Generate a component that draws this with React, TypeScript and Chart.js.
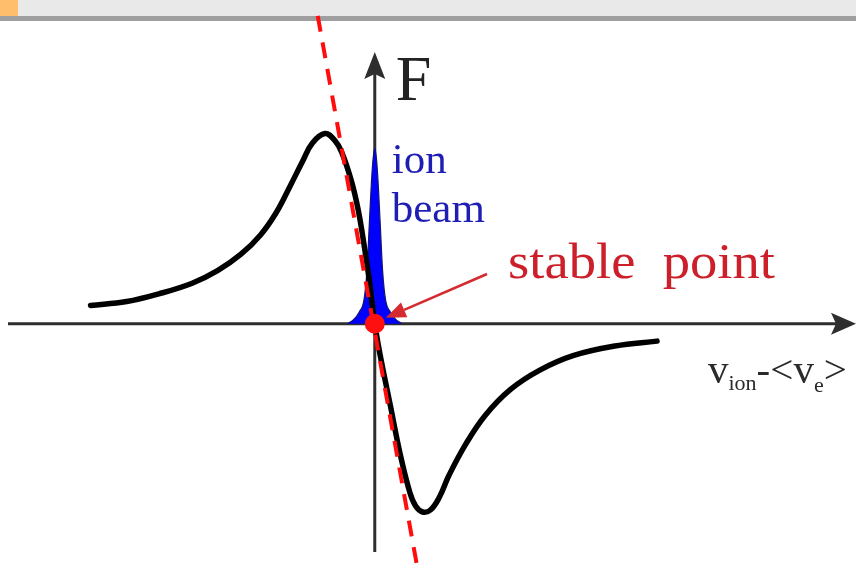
import { useEffect, useRef } from "react";
import { Chart, registerables } from "chart.js";

Chart.register(...registerables);

// Friction force on an ion versus relative velocity (arbitrary units)
const curveV = [
  -2.91, -2.54, -2.21, -1.87, -1.61, -1.37, -1.17, -1.01, -0.87, -0.74, -0.64,
  -0.51, -0.41, -0.34, -0.24, -0.17, -0.11, -0.06, 0, 0.06, 0.16, 0.26, 0.36,
  0.42, 0.49, 0.57, 0.66, 0.76, 0.93, 1.13, 1.39, 1.69, 2.03, 2.46, 2.89,
];
const curveF = [
  0.19, 0.23, 0.31, 0.42, 0.55, 0.72, 0.92, 1.15, 1.42, 1.68, 1.87, 1.97, 1.9,
  1.78, 1.48, 1.18, 0.82, 0.48, 0, -0.35, -0.85, -1.35, -1.75, -1.89, -1.95,
  -1.93, -1.8, -1.57, -1.25, -0.95, -0.68, -0.48, -0.33, -0.23, -0.18,
];

// Narrow velocity distribution of the ion beam
const beamV = [
  -0.28, -0.22, -0.16, -0.11, -0.08, -0.055, -0.035, -0.018, 0, 0.018, 0.035,
  0.055, 0.08, 0.11, 0.16, 0.22, 0.28,
];
const beamF = [
  0, 0.04, 0.12, 0.25, 0.55, 1.05, 1.45, 1.7, 1.82, 1.7, 1.45, 1.05, 0.55, 0.25,
  0.12, 0.04, 0,
];

// Tangent to the force curve at the stable point
const tangentV = [-0.584, 0.44];
const tangentF = [3.19, -2.55];

// Stable point
const stableV = [0];
const stableF = [0];

const xRange = [-3.735, 4.825];
const yRange = [-2.52, 3.25];

const labelForce = "F";
const labelBeam = ["ion", "beam"];
const labelStable = "stable  point";
const labelAxisParts = [
  { t: "v", sub: false },
  { t: "ion", sub: true },
  { t: "-", sub: false },
  { t: "<", sub: false },
  { t: "v", sub: false },
  { t: "e", sub: true },
  { t: ">", sub: false },
];

const toPoints = (xs: number[], ys: number[]) =>
  xs.map((x, i) => ({ x, y: ys[i] }));

const SERIF = '"Liberation Serif", "Times New Roman", serif';

const decorPlugin = {
  id: "decor",
  beforeDraw(chart: any) {
    const { ctx, width, height } = chart;
    ctx.save();
    ctx.fillStyle = "#ffffff";
    ctx.fillRect(0, 0, width, height);
    // window strip at the top
    ctx.fillStyle = "#e9e9e9";
    ctx.fillRect(0, 0, width, 16);
    ctx.fillStyle = "#9f9f9f";
    ctx.fillRect(0, 16, width, 5);
    ctx.fillStyle = "#ffbe6c";
    ctx.fillRect(0, 0, 18, 16);
    ctx.restore();
  },
  beforeDatasetsDraw(chart: any) {
    const { ctx } = chart;
    const x0 = chart.scales.x.getPixelForValue(0);
    const y0 = chart.scales.y.getPixelForValue(0);
    ctx.save();
    ctx.strokeStyle = "#2e2e2e";
    ctx.fillStyle = "#2e2e2e";
    ctx.lineWidth = 3;
    // horizontal axis
    ctx.beginPath();
    ctx.moveTo(8, y0);
    ctx.lineTo(836, y0);
    ctx.stroke();
    ctx.beginPath();
    ctx.moveTo(856, y0);
    ctx.lineTo(831, y0 - 11);
    ctx.lineTo(836, y0);
    ctx.lineTo(831, y0 + 11);
    ctx.closePath();
    ctx.fill();
    // vertical axis
    ctx.beginPath();
    ctx.moveTo(x0, 552);
    ctx.lineTo(x0, 74);
    ctx.stroke();
    ctx.beginPath();
    ctx.moveTo(x0, 52);
    ctx.lineTo(x0 - 10.5, 79);
    ctx.lineTo(x0, 74);
    ctx.lineTo(x0 + 10.5, 79);
    ctx.closePath();
    ctx.fill();
    ctx.restore();
  },
  afterDatasetsDraw(chart: any) {
    const { ctx } = chart;
    const x0 = chart.scales.x.getPixelForValue(0);
    const y0 = chart.scales.y.getPixelForValue(0);
    ctx.save();
    ctx.textBaseline = "alphabetic";
    ctx.textAlign = "left";

    // F axis label
    ctx.fillStyle = "#232323";
    ctx.font = `64px ${SERIF}`;
    ctx.fillText(labelForce, x0 + 21, 100);

    // ion beam label
    ctx.fillStyle = "#1e1eb4";
    ctx.font = `43px ${SERIF}`;
    ctx.fillText(labelBeam[0], x0 + 17, 173);
    ctx.fillText(labelBeam[1], x0 + 17, 222);

    // stable point label
    ctx.fillStyle = "#cc1f2a";
    ctx.font = `50px ${SERIF}`;
    const w = ctx.measureText(labelStable).width;
    ctx.save();
    ctx.translate(508, 278);
    ctx.scale(267 / w, 1);
    ctx.fillText(labelStable, 0, 0);
    ctx.restore();

    // arrow to stable point
    const tipX = x0 + 11;
    const tipY = y0 - 6;
    const sx = 487;
    const sy = 274;
    const ang = Math.atan2(tipY - sy, tipX - sx);
    const hl = 20;
    const hw = 8;
    const bx = tipX - hl * Math.cos(ang);
    const by = tipY - hl * Math.sin(ang);
    ctx.strokeStyle = "#d42a30";
    ctx.fillStyle = "#d42a30";
    ctx.lineWidth = 2.5;
    ctx.beginPath();
    ctx.moveTo(sx, sy);
    ctx.lineTo(bx, by);
    ctx.stroke();
    ctx.beginPath();
    ctx.moveTo(tipX, tipY);
    ctx.lineTo(bx + hw * Math.sin(ang), by - hw * Math.cos(ang));
    ctx.lineTo(bx - hw * Math.sin(ang), by + hw * Math.cos(ang));
    ctx.closePath();
    ctx.fill();

    // horizontal axis label
    ctx.fillStyle = "#2a2a2a";
    let cx = 708;
    const base = 383;
    for (const p of labelAxisParts) {
      ctx.font = p.sub ? `22px ${SERIF}` : `41px ${SERIF}`;
      const dy = p.sub ? (p.t === "e" ? 9 : 7) : 0;
      ctx.fillText(p.t, cx, base + dy);
      cx += ctx.measureText(p.t).width;
    }
    ctx.restore();
  },
};

export default function App() {
  const ref = useRef<HTMLCanvasElement | null>(null);

  useEffect(() => {
    if (!ref.current) return;
    const chart = new Chart(ref.current, {
      type: "scatter",
      data: {
        datasets: [
          {
            label: "stable point",
            data: toPoints(stableV, stableF),
            pointRadius: 10,
            pointBackgroundColor: "#ff1010",
            pointBorderWidth: 0,
            showLine: false,
            order: 0,
          },
          {
            label: "tangent",
            data: toPoints(tangentV, tangentF),
            showLine: true,
            borderColor: "#ff0d0d",
            borderWidth: 4,
            borderDash: [16, 11],
            pointRadius: 0,
            clip: false,
            order: 1,
          },
          {
            label: "force",
            data: toPoints(curveV, curveF),
            showLine: true,
            borderColor: "#000000",
            borderWidth: 5.5,
            tension: 0.4,
            pointRadius: 0,
            borderCapStyle: "round",
            borderJoinStyle: "round",
            order: 2,
          },
          {
            label: "ion beam",
            data: toPoints(beamV, beamF),
            showLine: true,
            borderColor: "#14146e",
            borderWidth: 1.2,
            backgroundColor: "#0000ff",
            fill: "origin",
            cubicInterpolationMode: "monotone",
            pointRadius: 0,
            order: 3,
          },
        ],
      },
      options: {
        responsive: false,
        animation: false,
        layout: { padding: 0 },
        plugins: {
          legend: { display: false },
          tooltip: { enabled: false },
        },
        scales: {
          x: { type: "linear", min: xRange[0], max: xRange[1], display: false },
          y: { type: "linear", min: yRange[0], max: yRange[1], display: false },
        },
      },
      plugins: [decorPlugin],
    });
    return () => chart.destroy();
  }, []);

  return (
    <div style={{ position: "fixed", left: 0, top: 0, width: 856, height: 577 }}>
      <canvas ref={ref} width={856} height={577} style={{ display: "block" }} />
    </div>
  );
}
